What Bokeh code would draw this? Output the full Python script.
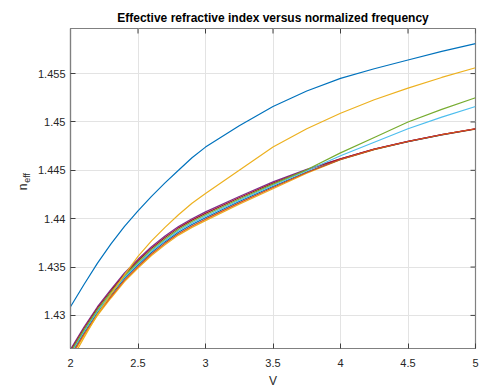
from bokeh.plotting import figure
from bokeh.layouts import row
from bokeh.models import Range1d, FixedTicker, Title
from bokeh.core.properties import value
from bokeh.embed import file_html
from bokeh.resources import INLINE

# ---- data ----
V = [2.0, 2.1, 2.2, 2.3, 2.4, 2.5, 2.6, 2.7, 2.8, 2.9, 3.0, 3.25, 3.5, 3.75, 4.0, 4.25, 4.5, 4.75, 5.0]

n_blue_top = [1.4309, 1.4332, 1.4354, 1.4374, 1.4392, 1.4408, 1.4423, 1.4437, 1.4450, 1.4463, 1.4474,
              1.4496, 1.4516, 1.4532, 1.4545, 1.4555, 1.4564, 1.4573, 1.4581]
n_yellow_2 = [1.4252, 1.4277, 1.4301, 1.4322, 1.4342, 1.4361, 1.4377, 1.4391, 1.4404, 1.4416, 1.4426,
              1.4450, 1.4474, 1.4493, 1.4509, 1.4523, 1.4535, 1.4546, 1.4556]
n_purple = [1.42650, 1.42880, 1.43090, 1.43270, 1.43440, 1.43580, 1.43710, 1.43820, 1.43920, 1.44000, 1.44070,
            1.44230, 1.44380, 1.44510, 1.44620, 1.44720, 1.44800, 1.44870, 1.44930]
n_darkred = [1.42635, 1.42865, 1.43075, 1.43255, 1.43425, 1.43565, 1.43695, 1.43805, 1.43905, 1.43985, 1.44055,
             1.44217, 1.44368, 1.44503, 1.44618, 1.44719, 1.44799, 1.44869, 1.44929]
n_green = [1.42620, 1.42850, 1.43060, 1.43240, 1.43410, 1.43550, 1.43680, 1.43790, 1.43890, 1.43970, 1.44040,
           1.44203, 1.44357, 1.44505, 1.44680, 1.44840, 1.45000, 1.45130, 1.45250]
n_lightblue = [1.42605, 1.42835, 1.43045, 1.43225, 1.43395, 1.43535, 1.43665, 1.43775, 1.43875, 1.43955, 1.44025,
               1.44190, 1.44345, 1.44495, 1.44650, 1.44790, 1.44930, 1.45050, 1.45160]
n_blue_2 = [1.42590, 1.42820, 1.43030, 1.43210, 1.43380, 1.43520, 1.43650, 1.43760, 1.43860, 1.43940, 1.44010,
            1.44177, 1.44333, 1.44483, 1.44613, 1.44716, 1.44797, 1.44867, 1.44927]
n_orange = [1.42575, 1.42805, 1.43015, 1.43195, 1.43365, 1.43505, 1.43635, 1.43745, 1.43845, 1.43925, 1.43995,
            1.44163, 1.44322, 1.44477, 1.44612, 1.44716, 1.44798, 1.44868, 1.44930]
n_yellow_c = [1.42560, 1.42790, 1.43000, 1.43180, 1.43350, 1.43490, 1.43620, 1.43730, 1.43830, 1.43910, 1.43980,
              1.44150, 1.44310, 1.44470, 1.44610, 1.44714, 1.44795, 1.44865, 1.44925]

x_ticks = [2, 2.5, 3, 3.5, 4, 4.5, 5]
x_tick_labels = ["2", "2.5", "3", "3.5", "4", "4.5", "5"]
y_ticks = [1.43, 1.435, 1.44, 1.445, 1.45, 1.455]
y_tick_labels = ["1.43", "1.435", "1.44", "1.445", "1.45", "1.455"]

series = [
    (n_yellow_c, "#EDB120"),
    (n_blue_2, "#0072BD"),
    (n_purple, "#7E2F8E"),
    (n_darkred, "#A2142F"),
    (n_lightblue, "#4DBEEE"),
    (n_green, "#77AC30"),
    (n_orange, "#D95319"),
    (n_yellow_2, "#EDB120"),
    (n_blue_top, "#0072BD"),
]

FONT = "Liberation Sans"
TXT = "#262626"
AX = "#808080"
TICK = "#404040"

X0, X1 = 2, 5
Y0, Y1 = 1.42658, 1.45966
FRAME_W, FRAME_H = 407, 320
STRIP_W = 34

# ---- main plot ----
p = figure(width=489 - STRIP_W, height=392, output_backend="svg", toolbar_location=None,
           x_range=Range1d(X0, X1), y_range=Range1d(Y0, Y1),
           min_border_left=68 - STRIP_W, min_border_right=14, min_border_top=28, min_border_bottom=44)

for ys, c in series:
    p.line(V, ys, line_color=c, line_width=1.2)

p.outline_line_color = AX
p.outline_line_width = 1.2

for ax in (p.xaxis[0], p.yaxis[0]):
    ax.axis_line_color = AX
    ax.axis_line_width = 1.2
    ax.major_tick_in = 5
    ax.major_tick_out = 0
    ax.minor_tick_line_color = None
    ax.major_tick_line_color = TICK
    ax.major_label_text_font = FONT
    ax.major_label_text_font_size = "11px"
    ax.major_label_text_color = TXT
    ax.axis_label_text_font = FONT
    ax.axis_label_text_color = TXT
    ax.axis_label_text_font_style = "normal"

p.xaxis.ticker = FixedTicker(ticks=x_ticks)
p.xaxis.major_label_overrides = dict(zip(x_ticks, x_tick_labels))
p.yaxis.ticker = FixedTicker(ticks=y_ticks)
p.yaxis.major_label_overrides = dict(zip(y_ticks, y_tick_labels))
p.xaxis.axis_label = "V"
p.xaxis.axis_label_text_font_size = "12px"
p.xaxis.axis_label_standoff = 4
p.xaxis.major_label_standoff = 10
p.yaxis.major_label_standoff = 5

p.xgrid.ticker = FixedTicker(ticks=x_ticks)
p.ygrid.ticker = FixedTicker(ticks=y_ticks)
p.grid.grid_line_color = "#e3e3e3"
p.grid.grid_line_width = 1

# inward ticks on the top and right edges of the box (5 px long)
dy_tick = 5 * (Y1 - Y0) / FRAME_H
dx_tick = 5 * (X1 - X0) / FRAME_W
p.segment(x0=x_ticks, y0=[Y1] * len(x_ticks), x1=x_ticks, y1=[Y1 - dy_tick] * len(x_ticks),
          line_color=TICK, line_width=1)
p.segment(x0=[X1] * len(y_ticks), y0=y_ticks, x1=[X1 - dx_tick] * len(y_ticks), y1=y_ticks,
          line_color=TICK, line_width=1)

p.add_layout(Title(text="Effective refractive index versus normalized frequency", align="center",
                   text_font=FONT, text_font_size="12px", text_font_style="bold",
                   text_color="#000000", standoff=8), "above")

# ---- narrow strip holding the rotated y label n_eff ----
q = figure(width=STRIP_W, height=392, output_backend="svg", toolbar_location=None,
           x_range=Range1d(0, STRIP_W), y_range=Range1d(0, 392),
           x_axis_type=None, y_axis_type=None, min_border=0)
q.outline_line_color = None
q.grid.visible = False
q.text(x=[22.5], y=[194], text=["n"], angle=1.5708, text_font=value(FONT), text_font_size="12px",
       text_color=TXT, text_align="left", text_baseline="alphabetic")
q.text(x=[26.5], y=[203], text=["eff"], angle=1.5708, text_font=value(FONT), text_font_size="9px",
       text_color=TXT, text_align="left", text_baseline="alphabetic")

layout = row(q, p, spacing=0)
open("out.html", "w").write(file_html(layout, INLINE))
